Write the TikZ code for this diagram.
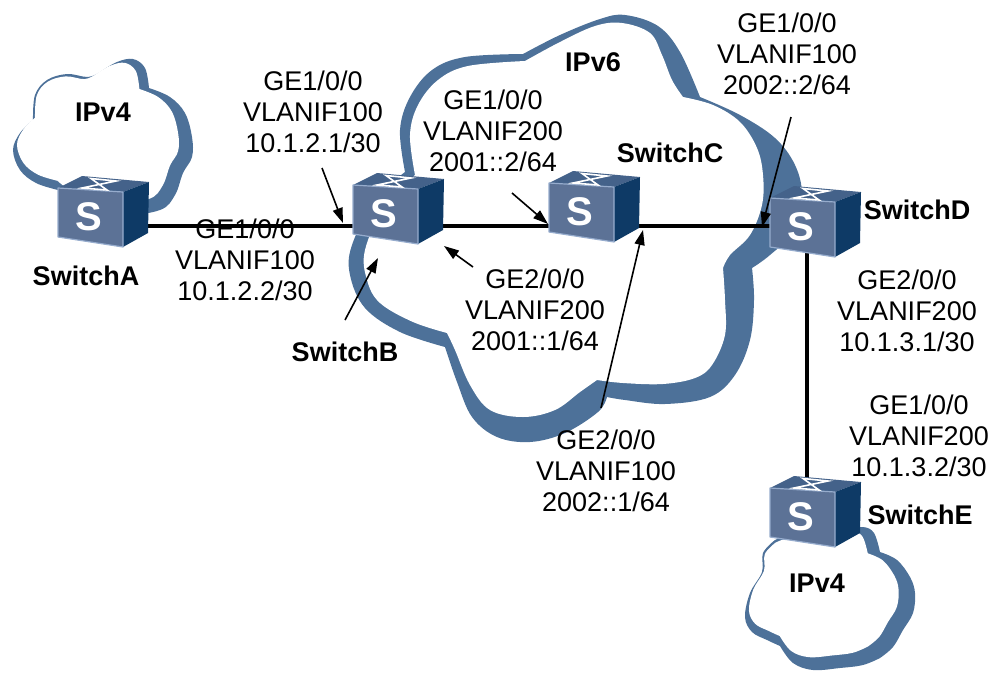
\documentclass[tikz,border=0pt]{standalone}
\usepackage{fontspec}
\setmainfont{Liberation Sans}
\usetikzlibrary{arrows.meta}

\definecolor{cloudblue}{RGB}{77,113,153}
\definecolor{swfront}{RGB}{92,114,150}
\definecolor{swrim}{RGB}{150,172,205}
\definecolor{swtop}{RGB}{68,98,138}
\definecolor{swside}{RGB}{14,58,102}

\tikzset{
  link/.style={line width=4pt, black},
  pointer/.style={line width=1.6pt, black, -{Triangle[length=15pt,width=10pt]}},
  addr/.style={font=\fontsize{27}{31}\selectfont, align=center, inner sep=0pt},
  title/.style={font=\fontsize{27}{31}\selectfont\bfseries, inner sep=0pt,
                text height=19.5pt, text depth=0pt},
  swnode/.style={minimum width=66pt, minimum height=52pt, inner sep=0pt},
  switchicon/.pic={
    % top face
    \fill[swtop] (-32,-28) -- (-8,-40) -- (59,-34) -- (33,-24) -- cycle;
    % right side face
    \fill[swside] (33,-24) -- (59,-34) -- (58,17) -- (33,31) -- cycle;
    % front face
    \filldraw[fill=swfront, draw=swrim, line width=1.2pt, line join=round]
      (-32,-28) -- (33,-24) -- (33,31) -- (-32,21) -- cycle;
    % hourglass mark on the top face
    \draw[white, line width=1.6pt, line join=miter]
      (1,-37.5) -- (17,-26) -- (-8,-28) -- (26,-35) -- cycle;
    % the S letter
    \node[text=white, inner sep=0pt, font=\fontsize{40}{40}\selectfont\bfseries] at (-1,1) {S};
  }
}

% cloud outlines
\def\cloudNW{plot[smooth, tension=0.6] coordinates {(58,190) (36,183) (20,170) (13,150) (20,133) (33,120)}
  -- plot[smooth, tension=0.6] coordinates {(33,120) (35,95) (47,80) (67,74) (88,77) (100,72)}
  -- plot[smooth, tension=0.6] coordinates {(100,72) (117,62) (133,59) (145,68) (149,88)}
  -- plot[smooth, tension=0.6] coordinates {(149,88) (170,97) (185,113) (192,137) (192,157) (183,173) (175,195) (160,210) (120,215) (80,205) (58,190)}
  -- cycle}

\def\cloudSE{plot[smooth, tension=0.6] coordinates {(775,540) (763,553) (762,572) (750,593) (745,617) (752,632) (767,640) (780,646)}
  -- plot[smooth, tension=0.6] coordinates {(780,646) (793,663) (813,670) (840,668) (863,665) (880,658)}
  -- plot[smooth, tension=0.6] coordinates {(880,658) (893,647) (903,630) (913,613) (915,593) (910,577) (897,560) (880,552)}
  -- plot[smooth, tension=0.6] coordinates {(880,552) (874,533) (863,527) (845,530) (820,535) (790,535) (775,540)}
  -- cycle}

\begin{document}
\begin{tikzpicture}[x=1pt, y=-1pt]
\useasboundingbox (0,0) rectangle (996,673);

% ---------- clouds ----------
% IPv4 cloud, upper left
\fill[cloudblue] \cloudNW;
\begin{scope}[shift={(53,98)}, scale=0.9, shift={(-53,-98)}]
  \fill[white] \cloudNW;
\end{scope}

% IPv6 cloud, outer rim
\fill[cloudblue]
  plot[smooth, tension=0.6] coordinates {(405,172) (400,130) (410,97) (432,70) (465,57) (523,54)}
  -- plot[smooth, tension=0.6] coordinates {(523,54) (560,35) (600,19) (625,15) (658,26) (680,52) (700,97)}
  -- plot[smooth, tension=0.6] coordinates {(700,97) (740,115) (775,138) (795,165) (802,195) (795,230) (770,255) (752,268)}
  -- plot[smooth, tension=0.6] coordinates {(752,268) (754,300) (750,340) (735,375) (710,397) (665,404) (625,400) (607,397)}
  -- plot[smooth, tension=0.6] coordinates {(607,397) (598,412) (565,433) (530,442) (497,437) (472,417) (457,382) (445,347)}
  -- plot[smooth, tension=0.6] coordinates {(445,347) (400,332) (365,308) (350,275) (352,245) (375,200) (405,172)}
  -- cycle;
% IPv6 cloud, white body
\fill[white]
  plot[smooth, tension=0.6] coordinates {(415,175) (410,135) (418,105) (438,80) (468,66) (525,61)}
  -- plot[smooth, tension=0.6] coordinates {(525,61) (560,42) (595,26) (622,23) (650,33) (662,55) (672,80) (683,97)}
  -- plot[smooth, tension=0.6] coordinates {(683,97) (713,105) (740,122) (757,148) (763,175) (762,205) (750,235) (730,255) (723,268)}
  -- plot[smooth, tension=0.6] coordinates {(723,268) (725,300) (725,335) (712,365) (695,378) (663,384) (623,383) (597,380)}
  -- plot[smooth, tension=0.6] coordinates {(597,380) (580,392) (555,410) (523,417) (490,410) (470,385) (455,350) (447,333)}
  -- plot[smooth, tension=0.6] coordinates {(447,333) (413,322) (380,303) (367,280) (365,250) (385,205) (415,175)}
  -- cycle;

% IPv4 cloud, lower right
\fill[cloudblue] \cloudSE;
\begin{scope}[shift={(778,563)}, scale=0.88, shift={(-778,-563)}]
  \fill[white] \cloudSE;
\end{scope}

% ---------- switches (placeholders for anchoring) ----------
\node[swnode] (A) at (90,216) {};
\node[swnode] (B) at (385,213) {};
\node[swnode] (C) at (581,211) {};
\node[swnode] (D) at (802,226) {};
\node[swnode] (E) at (802,516) {};
\coordinate (rail) at (0,226);

% ---------- links ----------
\draw[link] (A |- rail) -- (B |- rail);
\draw[link] (B |- rail) -- (C |- rail);
\draw[link] (C |- rail) -- (D |- rail);
\draw[link] ([xshift=5pt]D.center) -- ([xshift=5pt]E.center);

% ---------- switch icons ----------
\foreach \s in {A,B,C,D,E} { \pic at (\s) {switchicon}; }

% ---------- labels ----------
\node[title] (tA) at (86,276) {SwitchA};
\node[title] (tB) at (345,352) {SwitchB};
\node[title] (tC) at (670,153) {SwitchC};
\node[title] (tD) at (917,210) {SwitchD};
\node[title] (tE) at (920,515) {SwitchE};
\node[title] (net1) at (103,112) {IPv4};
\node[title] (net2) at (593,62) {IPv6};
\node[title] (net3) at (817,583) {IPv4};

\node[addr] (pA1) at (245,260) {GE1/0/0\\VLANIF100\\10.1.2.2/30};
\node[addr] (pB1) at (313,112) {GE1/0/0\\VLANIF100\\10.1.2.1/30};
\node[addr] (pC1) at (493,131) {GE1/0/0\\VLANIF200\\2001::2/64};
\node[addr] (pB2) at (535,310) {GE2/0/0\\VLANIF200\\2001::1/64};
\node[addr] (pC2) at (606,471) {GE2/0/0\\VLANIF100\\2002::1/64};
\node[addr] (pD1) at (787,54)  {GE1/0/0\\VLANIF100\\2002::2/64};
\node[addr] (pD2) at (907,311) {GE2/0/0\\VLANIF200\\10.1.3.1/30};
\node[addr] (pE1) at (919,436) {GE1/0/0\\VLANIF200\\10.1.3.2/30};

% ---------- pointers ----------
\coordinate (qB1) at (322,168);
\coordinate (qB0) at (345,320);
\coordinate (qC1) at (512,193);
\coordinate (qB2) at (473,267);
\coordinate (qC2) at (601,408);
\coordinate (qD1) at (791,117);

\draw[pointer] (qB1) -- ([shift={(-42,10)}]B.center);
\draw[pointer] (qB0) -- ([shift={(-7,45)}]B.center);
\draw[pointer] (qC1) -- ([shift={(-33,13)}]C.center);
\draw[pointer] (qB2) -- ([shift={(59,33)}]B.center);
\draw[pointer] (qC2) -- ([shift={(62,19)}]C.center);
\draw[pointer] (qD1) -- ([shift={(-40,1)}]D.center);
\end{tikzpicture}
\end{document}
